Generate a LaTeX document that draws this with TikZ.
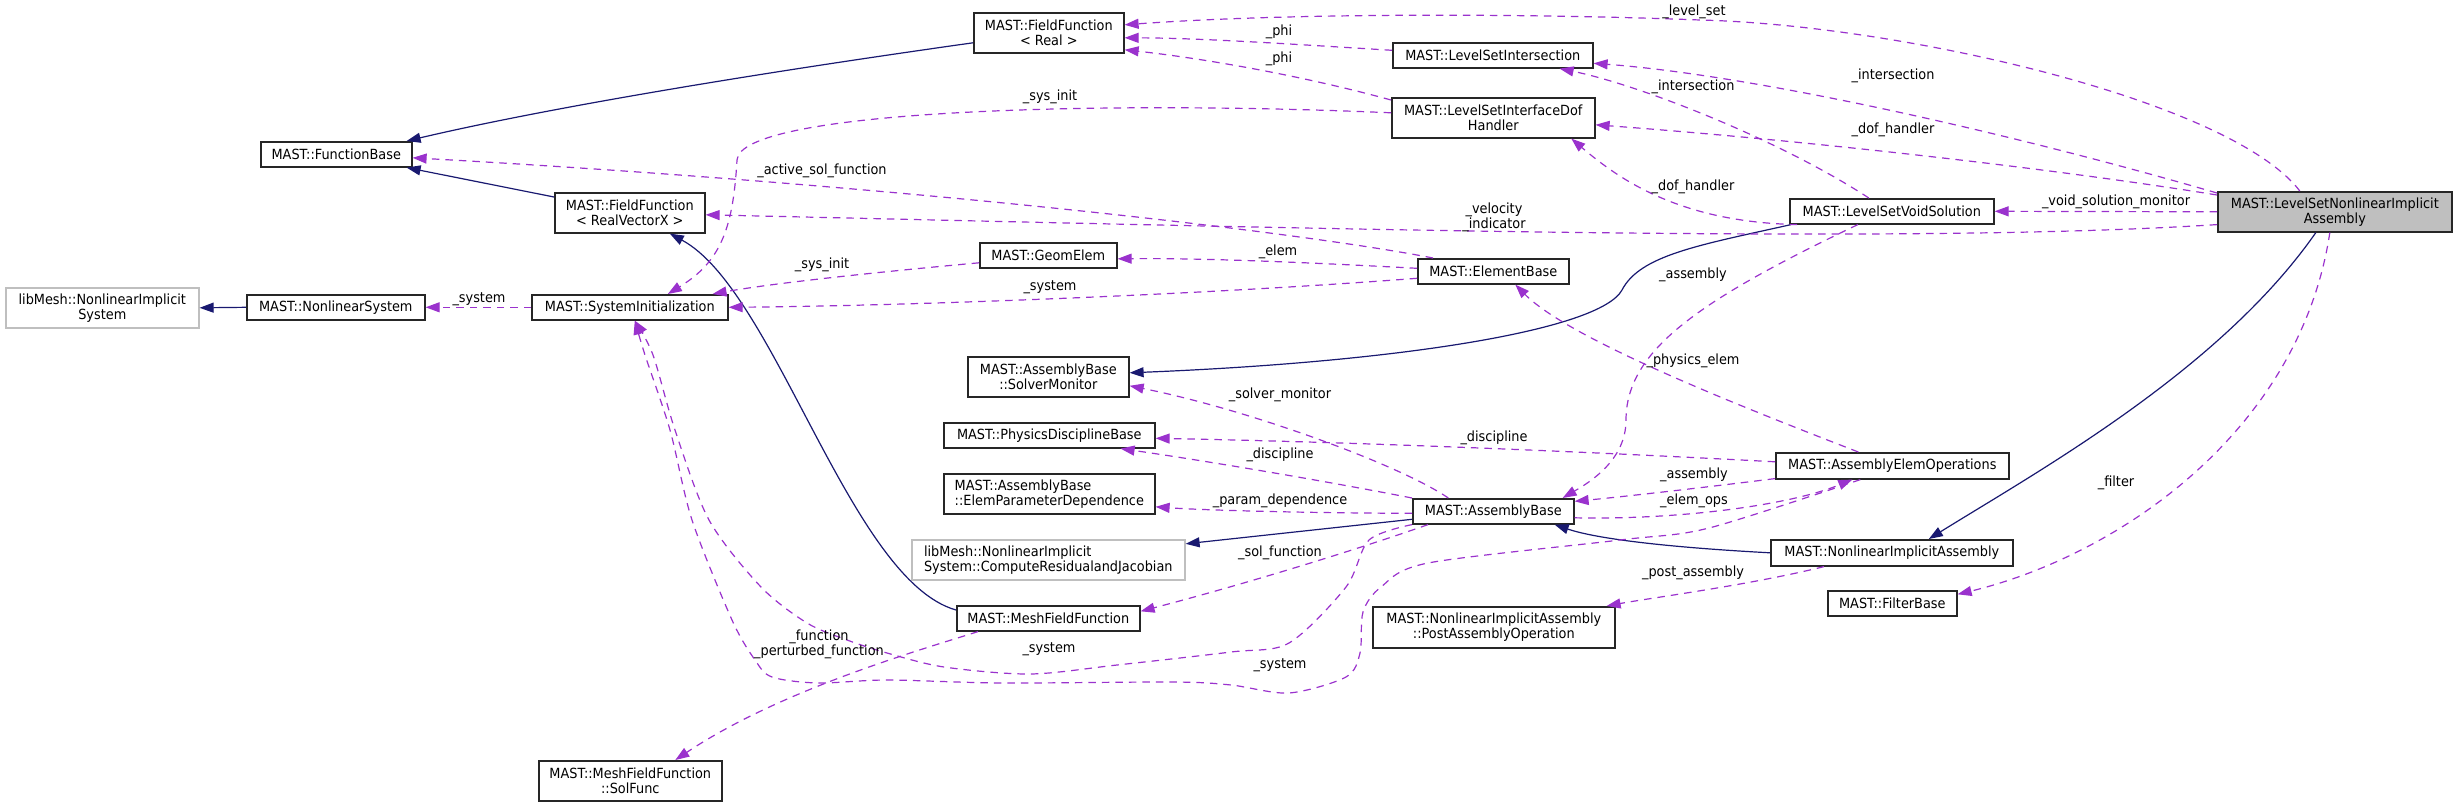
\documentclass[tikz,border=0pt]{standalone}
\usepackage{fontspec}
\setmainfont{DejaVu Sans}[FakeStretch=0.92]
\usetikzlibrary{arrows.meta}
\definecolor{inhc}{HTML}{191970}
\definecolor{usec}{HTML}{9A32CD}
\definecolor{graybd}{HTML}{BFBFBF}
\tikzset{
 cls/.style={draw=black!85, line width=1.6pt, fill=white, inner sep=0pt, font=\fontsize{14}{15}\selectfont, anchor=north west, align=center},
 ext/.style={cls, draw=graybd},
 mainc/.style={cls, fill=graybd},
 inh/.style={draw=inhc, line width=1.2pt, -{Triangle[length=14pt,width=10pt]}},
 use/.style={draw=usec, line width=1.2pt, dash pattern=on 7.5pt off 6pt, -{Triangle[length=14pt,width=10pt]}},
 lbl/.style={font=\fontsize{14}{15}\selectfont, inner sep=0pt, align=center},
}
\begin{document}
\begin{tikzpicture}[x=1pt,y=-1pt]
\path[use as bounding box] (0,0) rectangle (2456,806);
% nodes
\node[cls, minimum width=150pt, minimum height=40pt] (ffreal) at (973,12) {MAST::FieldFunction\\< Real >};
\node[cls, minimum width=151pt, minimum height=25pt] (funcbase) at (260,141) {MAST::FunctionBase};
\node[cls, minimum width=150pt, minimum height=40pt] (ffvec) at (554,192) {MAST::FieldFunction\\< RealVectorX >};
\node[ext, minimum width=193pt, minimum height=40pt] (libnis) at (5,287) {libMesh::NonlinearImplicit\\System};
\node[cls, minimum width=178pt, minimum height=25pt] (nlsys) at (246,294) {MAST::NonlinearSystem};
\node[cls, minimum width=196pt, minimum height=25pt] (sysinit) at (531,294) {MAST::SystemInitialization};
\node[cls, minimum width=200pt, minimum height=25pt] (lsi) at (1392,42) {MAST::LevelSetIntersection};
\node[cls, minimum width=203pt, minimum height=40pt] (lsidh) at (1391,97) {MAST::LevelSetInterfaceDof\\Handler};
\node[cls, minimum width=137pt, minimum height=25pt] (geomelem) at (979,242) {MAST::GeomElem};
\node[cls, minimum width=151pt, minimum height=25pt] (elembase) at (1417,258) {MAST::ElementBase};
\node[cls, minimum width=161pt, minimum height=40pt] (solvermon) at (967,356) {MAST::AssemblyBase\\::SolverMonitor};
\node[cls, minimum width=204pt, minimum height=25pt] (lsvs) at (1789,198) {MAST::LevelSetVoidSolution};
\node[mainc, minimum width=234pt, minimum height=40pt] (lsnia) at (2217,191) {MAST::LevelSetNonlinearImplicit\\Assembly};
\node[cls, minimum width=183pt, minimum height=40pt] (solfunc) at (538,760) {MAST::MeshFieldFunction\\::SolFunc};
\node[cls, minimum width=211pt, minimum height=25pt] (pdb) at (943,422) {MAST::PhysicsDisciplineBase};
\node[cls, minimum width=211pt, minimum height=40pt, align=left] (epd) at (943,473) {MAST::AssemblyBase\\::ElemParameterDependence};
\node[ext, minimum width=273pt, minimum height=40pt, align=left] (crj) at (911,539) {libMesh::NonlinearImplicit\\System::ComputeResidualandJacobian};
\node[cls, minimum width=183pt, minimum height=25pt] (mff) at (956,605) {MAST::MeshFieldFunction};
\node[cls, minimum width=161pt, minimum height=25pt] (ab) at (1412,498) {MAST::AssemblyBase};
\node[cls, minimum width=242pt, minimum height=41pt] (pao) at (1372,606) {MAST::NonlinearImplicitAssembly\\::PostAssemblyOperation};
\node[cls, minimum width=233pt, minimum height=26pt] (aeo) at (1775,452) {MAST::AssemblyElemOperations};
\node[cls, minimum width=242pt, minimum height=26pt] (nia) at (1770,539) {MAST::NonlinearImplicitAssembly};
\node[cls, minimum width=129pt, minimum height=25pt] (filterbase) at (1827,590) {MAST::FilterBase};
% inheritance
\draw[inh] ([yshift=-10pt]ffreal.west) .. controls (780,70) and (560,105) .. ([xshift=-6pt]funcbase.north east);
\draw[inh] ([yshift=-5pt]ffvec.north west) -- ([xshift=-6pt]funcbase.south east);
\draw[inh] (nlsys.west) -- (libnis.east);
\draw[inh] ([yshift=-5pt]mff.north west) .. controls (850,580) and (775,290) .. ([xshift=40pt]ffvec.south);
\draw[inh] ([xshift=2pt]lsvs.south west) .. controls (1700,245) and (1640,255) .. (1622,290) .. controls (1600,330) and (1400,362) .. ([yshift=4pt]solvermon.east);
\draw[inh] (nia.west) .. controls (1680,548) and (1600,540) .. ([xshift=-20pt]ab.south east);
\draw[inh] ([xshift=-19pt]lsnia.south) .. controls (2220,370) and (2040,470) .. ([xshift=37pt]nia.north);
\draw[inh] ([yshift=-8pt]ab.west) -- ([yshift=16pt]crj.east);
% usage
\draw[use] ([xshift=-35pt]lsnia.north) .. controls (2230,100) and (1900,25) .. (1700,20) .. controls (1550,14) and (1300,12) .. ([yshift=8pt]ffreal.east);
\draw[use] ([yshift=5pt]lsi.west) .. controls (1290,44) and (1200,38) .. ([yshift=-5pt]ffreal.east);
\draw[use] ([yshift=-3pt]lsidh.north west) .. controls (1300,75) and (1200,58) .. ([yshift=-17pt]ffreal.east);
\draw[use] ([yshift=-2pt]lsnia.north west) .. controls (2000,130) and (1750,75) .. ([yshift=-8pt]lsi.east);
\draw[use] ([xshift=-23pt]lsvs.north) .. controls (1780,140) and (1640,85) .. ([xshift=-34pt]lsi.south east);
\draw[use] ([yshift=-4pt]lsnia.north west) .. controls (2050,168) and (1800,140) .. ([yshift=-7pt]lsidh.east);
\draw[use] ([xshift=8pt]lsvs.south west) .. controls (1680,222) and (1620,180) .. ([xshift=78pt]lsidh.south);
\draw[use] ([yshift=5pt]lsidh.west) .. controls (1100,100) and (740,110) .. (737,160) .. controls (733,230) and (720,262) .. ([xshift=38pt]sysinit.north);
\draw[use] ([xshift=16pt]elembase.north west) .. controls (1300,232) and (900,185) .. ([yshift=-3.5pt]funcbase.east);
\draw[use] ([yshift=8pt]lsnia.south west) .. controls (1900,245) and (1300,228) .. ([yshift=-2pt]ffvec.east);
\draw[use] (lsnia.west) -- (lsvs.east);
\draw[use] ([yshift=3pt]elembase.west) .. controls (1300,262) and (1200,258) .. ([yshift=-3.5pt]geomelem.east);
\draw[use] ([yshift=-7pt]elembase.west) .. controls (1200,295) and (900,306) .. (sysinit.east);
\draw[use] ([yshift=-7.5pt]geomelem.west) .. controls (900,270) and (780,282) .. ([xshift=-16pt]sysinit.north east);
\draw[use] (sysinit.west) -- (nlsys.east);
\draw[use] ([xshift=-45pt]ab.north) .. controls (1400,465) and (1250,410) .. ([yshift=-9pt]solvermon.east);
\draw[use] (ab.north west) .. controls (1320,480) and (1200,460) .. ([xshift=-35pt]pdb.south east);
\draw[use] ([yshift=4pt]aeo.west) .. controls (1650,455) and (1400,443) .. ([yshift=-3pt]pdb.east);
\draw[use] ([yshift=-2pt]ab.west) .. controls (1300,513) and (1200,510) .. ([yshift=-13pt]epd.east);
\draw[use] ([xshift=16pt]ab.south west) .. controls (1370,545) and (1260,580) .. ([yshift=7pt]mff.east);
\draw[use] ([xshift=-34pt]aeo.north) .. controls (1750,410) and (1570,340) .. ([xshift=22pt]elembase.south);
\draw[use] ([yshift=1pt]aeo.south west) .. controls (1700,488) and (1620,497) .. ([yshift=10pt]ab.east);
\draw[use] ([xshift=-34pt]lsvs.south) .. controls (1700,300) and (1626,350) .. (1626,420) .. controls (1626,460) and (1590,482) .. ([xshift=-12pt]ab.north east);
\draw[use] ([yshift=-6.5pt]ab.east) .. controls (1680,520) and (1790,505) .. ([xshift=-40pt]aeo.south);
\coordinate (e33s) at ([xshift=-32pt]aeo.south);
\coordinate (siend) at ([xshift=5pt]sysinit.south);
\draw[use] plot[smooth] coordinates {(e33s) (1709,528) (1620,540) (1428,563) (1381,587) (1363,612) (1360,653) (1346,677) (1289,693) (1231,685) (1174,682) (1002,683) (887,680) (818,683) (772,677) (755,660) (732,620) (692,520) (670,430) (645,355) (siend)};
\coordinate (e34s) at (ab.south west);
\draw[use] plot[smooth] coordinates {(e34s) (1369,540) (1346,587) (1289,643) (1231,652) (1117,665) (1030,674) (944,667) (887,653) (847,640) (807,623) (761,587) (709,520) (675,430) (653,355) (siend)};
\draw[use] ([xshift=22pt]mff.south west) .. controls (920,650) and (780,690) .. ([xshift=45pt]solfunc.north);
\draw[use] ([xshift=-5pt]lsnia.south) .. controls (2300,430) and (2120,555) .. ([yshift=9pt]filterbase.east);
\draw[use] ([xshift=54pt]nia.south west) .. controls (1750,585) and (1650,598) .. ([xshift=-9pt]pao.north east);
% labels
\node[lbl] (t1) at (1694,12) {\_level\_set};
\node[lbl] (t2) at (1279,32) {\_phi};
\node[lbl] (t3) at (1279,59) {\_phi};
\node[lbl] (t4) at (1893,76) {\_intersection};
\node[lbl] (t5) at (1693,87) {\_intersection};
\node[lbl] (t6) at (1893,130) {\_dof\_handler};
\node[lbl] (t7) at (1693,187) {\_dof\_handler};
\node[lbl] (t8) at (1050,97) {\_sys\_init};
\node[lbl] (t9) at (822,171) {\_active\_sol\_function};
\node[lbl] (t10) at (1494,217) {\_velocity\\\_indicator};
\node[lbl] (t11) at (2116,202) {\_void\_solution\_monitor};
\node[lbl] (t12) at (1278,252) {\_elem};
\node[lbl] (t13) at (822,265) {\_sys\_init};
\node[lbl] (t14) at (1050,287) {\_system};
\node[lbl] (t15) at (479,299) {\_system};
\node[lbl] (t16) at (1693,275) {\_assembly};
\node[lbl] (t17) at (1693,361) {\_physics\_elem};
\node[lbl] (t18) at (1280,395) {\_solver\_monitor};
\node[lbl] (t19) at (1494,438) {\_discipline};
\node[lbl] (t20) at (1280,455) {\_discipline};
\node[lbl] (t21) at (1694,475) {\_assembly};
\node[lbl] (t22) at (1280,501) {\_param\_dependence};
\node[lbl] (t23) at (1694,501) {\_elem\_ops};
\node[lbl] (t24) at (1280,553) {\_sol\_function};
\node[lbl] (t25) at (2116,483) {\_filter};
\node[lbl] (t26) at (1693,573) {\_post\_assembly};
\node[lbl] (t27) at (1049,649) {\_system};
\node[lbl] (t28) at (1280,665) {\_system};
\node[lbl] (t29) at (819,644) {\_function\\\_perturbed\_function};
\end{tikzpicture}
\end{document}
